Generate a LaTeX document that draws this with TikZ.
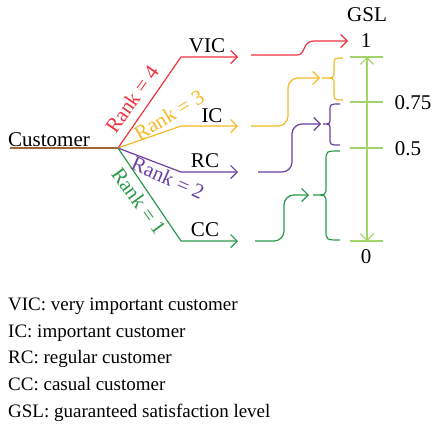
\documentclass[tikz,border=0pt]{standalone}
\usepackage{fontspec}
\setmainfont{Liberation Serif}
\usetikzlibrary{arrows.meta}
\definecolor{cred}{HTML}{EE3340}
\definecolor{cyel}{HTML}{F5B925}
\definecolor{cpur}{HTML}{6B3FA0}
\definecolor{cgrn}{HTML}{2A9A4A}
\definecolor{clgr}{HTML}{A2D46A}
\definecolor{cbrn}{HTML}{A0663A}
\tikzset{tip/.tip={Straight Barb[length=6.5pt,width=13pt,line width=1.2pt]}}
\begin{document}
\begin{tikzpicture}[x=1pt,y=-1pt,
  lbl/.style={font=\fontsize{21}{23}\selectfont, inner sep=0pt},
  rk/.style={font=\fontsize{21}{23}\selectfont, inner sep=0pt},
  txt/.style={font=\fontsize{19}{21}\selectfont, inner sep=0pt, anchor=base west},
  arr/.style={line width=1.2pt, -tip},
  ln/.style={line width=1.2pt},
  crv/.style={line width=1.2pt, rounded corners=10pt, -tip},
  brc/.style={line width=1.2pt}]
\useasboundingbox (0,0) rectangle (431,426);
% left tree
\node[lbl, anchor=base west] (cust) at (8,146) {Customer};
\coordinate (c0) at (10,148);
\coordinate (br) at (118,148);
\draw[ln, cbrn] (c0) -- (br);
\coordinate (vk) at (181,57);
\coordinate (ik) at (181,126);
\coordinate (rk) at (181,172);
\coordinate (ck) at (181,241);
\coordinate (va) at (238,57);
\coordinate (ia) at (238,126);
\coordinate (ra) at (238,172);
\coordinate (ca) at (238,241);
\draw[arr, cred] (br) -- (vk) -- (va);
\draw[arr, cyel] (br) -- (ik) -- (ia);
\draw[arr, cpur] (br) -- (rk) -- (ra);
\draw[arr, cgrn] (br) -- (ck) -- (ca);
\node[lbl] (vic) at (207,46) {VIC};
\node[lbl] (ic) at (212,116) {IC};
\node[lbl] (rc) at (205,161) {RC};
\node[lbl] (cc) at (205,230) {CC};
\node[rk, cred, rotate=55] (r4) at (132,99) {Rank = 4};
\node[rk, cyel, rotate=31] (r3) at (169,115) {Rank = 3};
\node[rk, cpur, rotate=-24] (r2) at (168,178) {Rank = 2};
\node[rk, cgrn, rotate=-54] (r1) at (139,201) {Rank = 1};
% GSL axis
\node[lbl] (gsl) at (367,15) {GSL};
\node[lbl] (one) at (366,41) {1};
\node[lbl] (p75) at (413,103) {0.75};
\node[lbl] (p5) at (408,149) {0.5};
\node[lbl] (zero) at (366,257) {0};
\coordinate (t1a) at (350,57); \coordinate (t1b) at (383,57);
\coordinate (t2a) at (350,102); \coordinate (t2b) at (383,102);
\coordinate (t3a) at (350,148); \coordinate (t3b) at (383,148);
\coordinate (t4a) at (350,241); \coordinate (t4b) at (383,241);
\draw[ln, clgr] (t1a) -- (t1b) (t2a) -- (t2b) (t3a) -- (t3b) (t4a) -- (t4b);
\coordinate (ax1) at (367,57); \coordinate (ax0) at (367,241);
\draw[line width=1.2pt, clgr, tip-tip] (ax1) -- (ax0);
% red
\coordinate (rs) at (251,55); \coordinate (re) at (348,41);
\draw[arr, cred] (rs) -- (297,55) .. controls (306,55) and (302,41) .. (314,41) -- (re);
% yellow
\coordinate (ys) at (251,126); \coordinate (ye) at (320,78);
\draw[crv, cyel] (ys) -| (288,78) -- (ye);
\draw[brc, cyel] (343,58) .. controls (334,58) .. (334,66) -- (334,72) .. controls (334,78) .. (322,78)
  .. controls (334,78) .. (334,84) -- (334,92) .. controls (334,100) .. (343,100);
% purple
\coordinate (ps) at (258,172); \coordinate (pe) at (321,124);
\draw[crv, cpur] (ps) -| (292,124) -- (pe);
\draw[brc, cpur] (340,104) .. controls (330,104) .. (330,111) -- (330,118) .. controls (330,124) .. (323,124)
  .. controls (330,124) .. (330,130) -- (330,138) .. controls (330,145) .. (340,145);
% green
\coordinate (gs) at (255,241); \coordinate (ge) at (309,195);
\draw[crv, cgrn] (gs) -| (284,195) -- (ge);
\draw[brc, cgrn] (340,151) .. controls (326,151) .. (326,161) -- (326,187) .. controls (326,195) .. (313,195)
  .. controls (326,195) .. (326,203) -- (326,230) .. controls (326,240) .. (340,240);
% legend
\node[txt] (l1) at (8,310) {VIC: very important customer};
\node[txt] (l2) at (8,337) {IC: important customer};
\node[txt] (l3) at (8,363) {RC: regular customer};
\node[txt] (l4) at (8,390) {CC: casual customer};
\node[txt] (l5) at (8,417) {GSL: guaranteed satisfaction level};
\end{tikzpicture}
\end{document}
